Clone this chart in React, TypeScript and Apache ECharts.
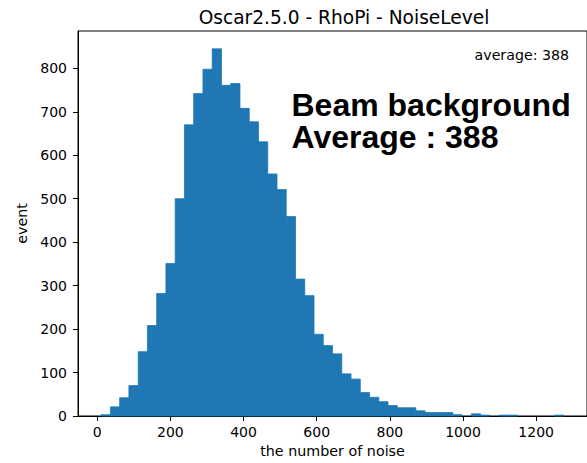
import React, { useEffect, useRef } from "react";
import * as echarts from "echarts";

// Histogram: 50 bins starting at binStart with width binWidth
const binStart = 10.8;
const binWidth = 25.3;
const counts = [
  3, 21, 42, 70, 148, 208, 282, 351, 500, 670,
  742, 798, 845, 761, 765, 708, 677, 631, 557, 521,
  459, 315, 277, 188, 162, 143, 97, 85, 54, 43,
  33, 24, 19, 19, 12, 8, 8, 8, 3, 0,
  5, 2, 0, 2, 2, 0, 0, 0, 0, 2,
];
const xTicks = [0, 200, 400, 600, 800, 1000, 1200];
const yTicks = [0, 100, 200, 300, 400, 500, 600, 700, 800];

const titleText = "Oscar2.5.0 - RhoPi - NoiseLevel";
const xLabel = "the number of noise";
const yLabel = "event";
const averageText = "average: 388";
const bigLines = ["Beam background", "Average : 388"];

export default function App() {
  const ref = useRef<HTMLDivElement>(null);
  useEffect(() => {
    if (!ref.current) return;
    const chart = echarts.init(ref.current, undefined, { renderer: "svg" });
    const data = counts.map((c, i) => [
      binStart + i * binWidth,
      binStart + (i + 1) * binWidth,
      c,
    ]);
    const font = "DejaVu Sans";
    const fs = 14;
    chart.setOption({
      animation: false,
      textStyle: { fontFamily: font, color: "#000" },
      title: {
        text: titleText,
        left: 339,
        top: 3,
        textAlign: "center",
        textStyle: { fontFamily: font, fontSize: 18.6, fontWeight: "normal", color: "#000" },
      },
      grid: {
        left: 78,
        top: 31,
        right: -6,
        bottom: 45,
        show: true,
        borderColor: "#000",
        borderWidth: 1,
        backgroundColor: "transparent",
      },
      xAxis: {
        type: "value",
        min: -52.5,
        max: 1339,
        name: xLabel,
        nameLocation: "middle",
        nameGap: 28,
        nameTextStyle: { fontFamily: font, fontSize: 14.3, color: "#000" },
        axisLine: { show: true, onZero: false, lineStyle: { color: "#000", width: 1 } },
        axisTick: { show: true, length: 5, customValues: xTicks, lineStyle: { color: "#000", width: 1 } },
        axisLabel: {
          customValues: xTicks,
          fontSize: fs,
          color: "#000",
          fontFamily: font,
          margin: 9,
          formatter: (v: number) => String(v),
        },
        splitLine: { show: false },
      },
      yAxis: {
        type: "value",
        min: 0,
        max: 886,
        name: yLabel,
        nameLocation: "middle",
        nameGap: 46,
        nameRotate: 90,
        nameTextStyle: { fontFamily: font, fontSize: 14.3, color: "#000" },
        axisLine: { show: true, onZero: false, lineStyle: { color: "#000", width: 1 } },
        axisTick: { show: true, length: 5, customValues: yTicks, lineStyle: { color: "#000", width: 1 } },
        axisLabel: {
          customValues: yTicks,
          fontSize: fs,
          color: "#000",
          fontFamily: font,
          margin: 11,
          formatter: (v: number) => String(v),
        },
        splitLine: { show: false },
      },
      series: [
        {
          type: "custom",
          encode: { x: [0, 1], y: 2 },
          data,
          renderItem: (params: any, api: any) => {
            const x0 = api.value(0);
            const x1 = api.value(1);
            const v = api.value(2);
            if (!v) return null;
            const p0 = api.coord([x0, v]);
            const p1 = api.coord([x1, 0]);
            return {
              type: "rect",
              shape: { x: p0[0], y: p0[1], width: p1[0] - p0[0], height: p1[1] - p0[1] },
              style: { fill: "#1f77b4", stroke: "#1f77b4", lineWidth: 0.8 },
            };
          },
        },
      ],
      graphic: [
        {
          type: "text",
          right: 18,
          top: 48,
          style: { text: averageText, fontFamily: font, fontSize: 14.2, fill: "#000" },
        },
        {
          type: "text",
          x: 291.5,
          y: 121,
          style: {
            text: bigLines.join("\n"),
            fontFamily: "Liberation Sans",
            fontWeight: "bold",
            fontSize: 32,
            lineHeight: 32.3,
            fill: "#000",
            verticalAlign: "middle",
          },
        },
      ],
    });
    return () => chart.dispose();
  }, []);
  return (
    <div
      ref={ref}
      style={{ position: "absolute", left: 0, top: 0, width: 587, height: 463, background: "#fff" }}
    />
  );
}
